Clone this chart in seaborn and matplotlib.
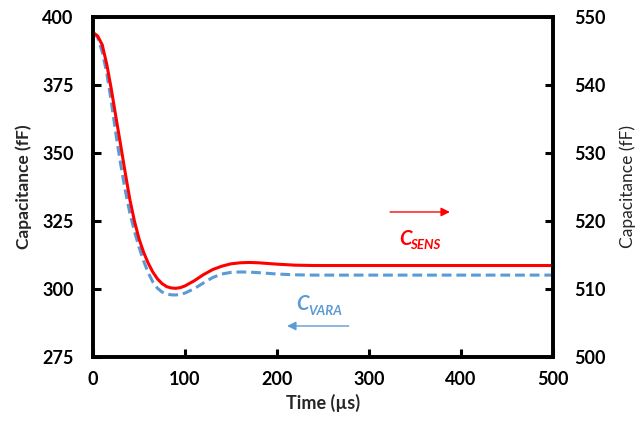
import matplotlib
matplotlib.use("Agg")
import matplotlib.pyplot as plt
import seaborn as sns
import pandas as pd

# ---- data ----
time_us = [0, 5, 10, 15, 20, 25, 30, 35, 40, 45, 50, 55, 60, 65, 70, 75, 80, 85, 90, 95,
           100, 110, 120, 130, 140, 150, 160, 170, 180, 190, 200, 220, 240, 260, 280,
           300, 350, 400, 450, 500]
c_sens = [547.7, 547.2, 545.9, 543.0, 539.3, 535.2, 531.2, 527.1, 523.2, 520.0, 517.4,
          515.4, 513.8, 512.5, 511.5, 510.8, 510.35, 510.15, 510.1, 510.2,
          510.45, 511.2, 512.1, 512.85, 513.35, 513.7, 513.85, 513.9, 513.85, 513.75,
          513.65, 513.5, 513.45, 513.45, 513.45, 513.45, 513.45, 513.45, 513.45, 513.45]
c_vara = [394.2, 392.5, 387.2, 379.3, 368.6, 356.8, 346.0, 336.3, 328.0, 321.3, 315.4,
          310.3, 306.0, 302.6, 300.3, 298.9, 298.2, 297.85, 297.8, 298.0,
          298.5, 300.1, 302.2, 304.2, 305.5, 306.1, 306.25, 306.2, 306.0, 305.75,
          305.5, 305.2, 305.1, 305.1, 305.1, 305.1, 305.1, 305.1, 305.1, 305.1]
x_ticks = [0, 100, 200, 300, 400, 500]
left_ticks = [275, 300, 325, 350, 375, 400]
right_ticks = [500, 510, 520, 530, 540, 550]

df = pd.DataFrame({"t": time_us, "sens": c_sens, "vara": c_vara})

sns.set_theme(style="ticks")
plt.rcParams['font.family'] = ['Lato', 'DejaVu Sans']

RED = "#FF0000"
BLUE = "#5B9BD5"

fig = plt.figure(figsize=(6.37, 4.33), dpi=100)
ax = fig.add_axes([0.146, 0.1755, 0.722, 0.7855])
ax2 = ax.twinx()

sns.lineplot(data=df, x="t", y="vara", ax=ax, color=BLUE, linewidth=2.2,
             linestyle=(0, (3.2, 1.6)))
sns.lineplot(data=df, x="t", y="sens", ax=ax2, color=RED, linewidth=2.2)

ax.set_xlim(0, 500)
ax.set_ylim(275, 400)
ax2.set_ylim(500, 550)
ax.set_xticks(x_ticks)
ax.set_yticks(left_ticks)
ax2.set_yticks(right_ticks)

for a in (ax, ax2):
    for s in a.spines.values():
        s.set_visible(True)
        s.set_linewidth(2.6)
        s.set_color("black")

ax.tick_params(axis="y", which="major", direction="in", length=5.5, width=2.2,
               colors="black", labelsize=13, pad=14, left=True, right=False)
ax.tick_params(axis="x", which="major", direction="in", length=5.5, width=2.2,
               colors="black", labelsize=13, pad=10, bottom=True, top=False)
ax2.tick_params(axis="y", which="major", direction="in", length=5.5, width=2.2,
                colors="black", labelsize=13, pad=15, right=True, left=False)
for lab in ax.get_xticklabels() + ax.get_yticklabels() + ax2.get_yticklabels():
    lab.set_fontweight("bold")

ax.set_xlabel("Time (µs)", fontsize=13, fontweight="bold", labelpad=4)
ax.set_ylabel("Capacitance (fF)", fontsize=12.5, fontweight="bold", labelpad=7)
ax2.set_ylabel("Capacitance (fF)", fontsize=12.5, fontweight="normal", labelpad=10)

# arrows and labels
ax.annotate("", xy=(391, 328.3), xytext=(320, 328.3),
            arrowprops=dict(arrowstyle="-|>", color=RED, lw=1.0,
                            mutation_scale=13))
ax.annotate("", xy=(208, 286.4), xytext=(281, 286.4),
            arrowprops=dict(arrowstyle="-|>", color=BLUE, lw=1.0,
                            mutation_scale=13))
ax.text(333, 318.5, "C", color=RED, fontsize=14.5, fontweight="bold",
        fontstyle="italic", ha="left", va="center")
ax.text(345, 316.3, "SENS", color=RED, fontsize=9.5, fontweight="bold",
        fontstyle="italic", ha="left", va="center")
ax.text(221, 294.5, "C", color=BLUE, fontsize=14.5, fontweight="bold",
        fontstyle="italic", ha="left", va="center")
ax.text(234, 291.8, "VARA", color=BLUE, fontsize=9.5, fontweight="bold",
        fontstyle="italic", ha="left", va="center")

fig.savefig("out.png", dpi=100)
